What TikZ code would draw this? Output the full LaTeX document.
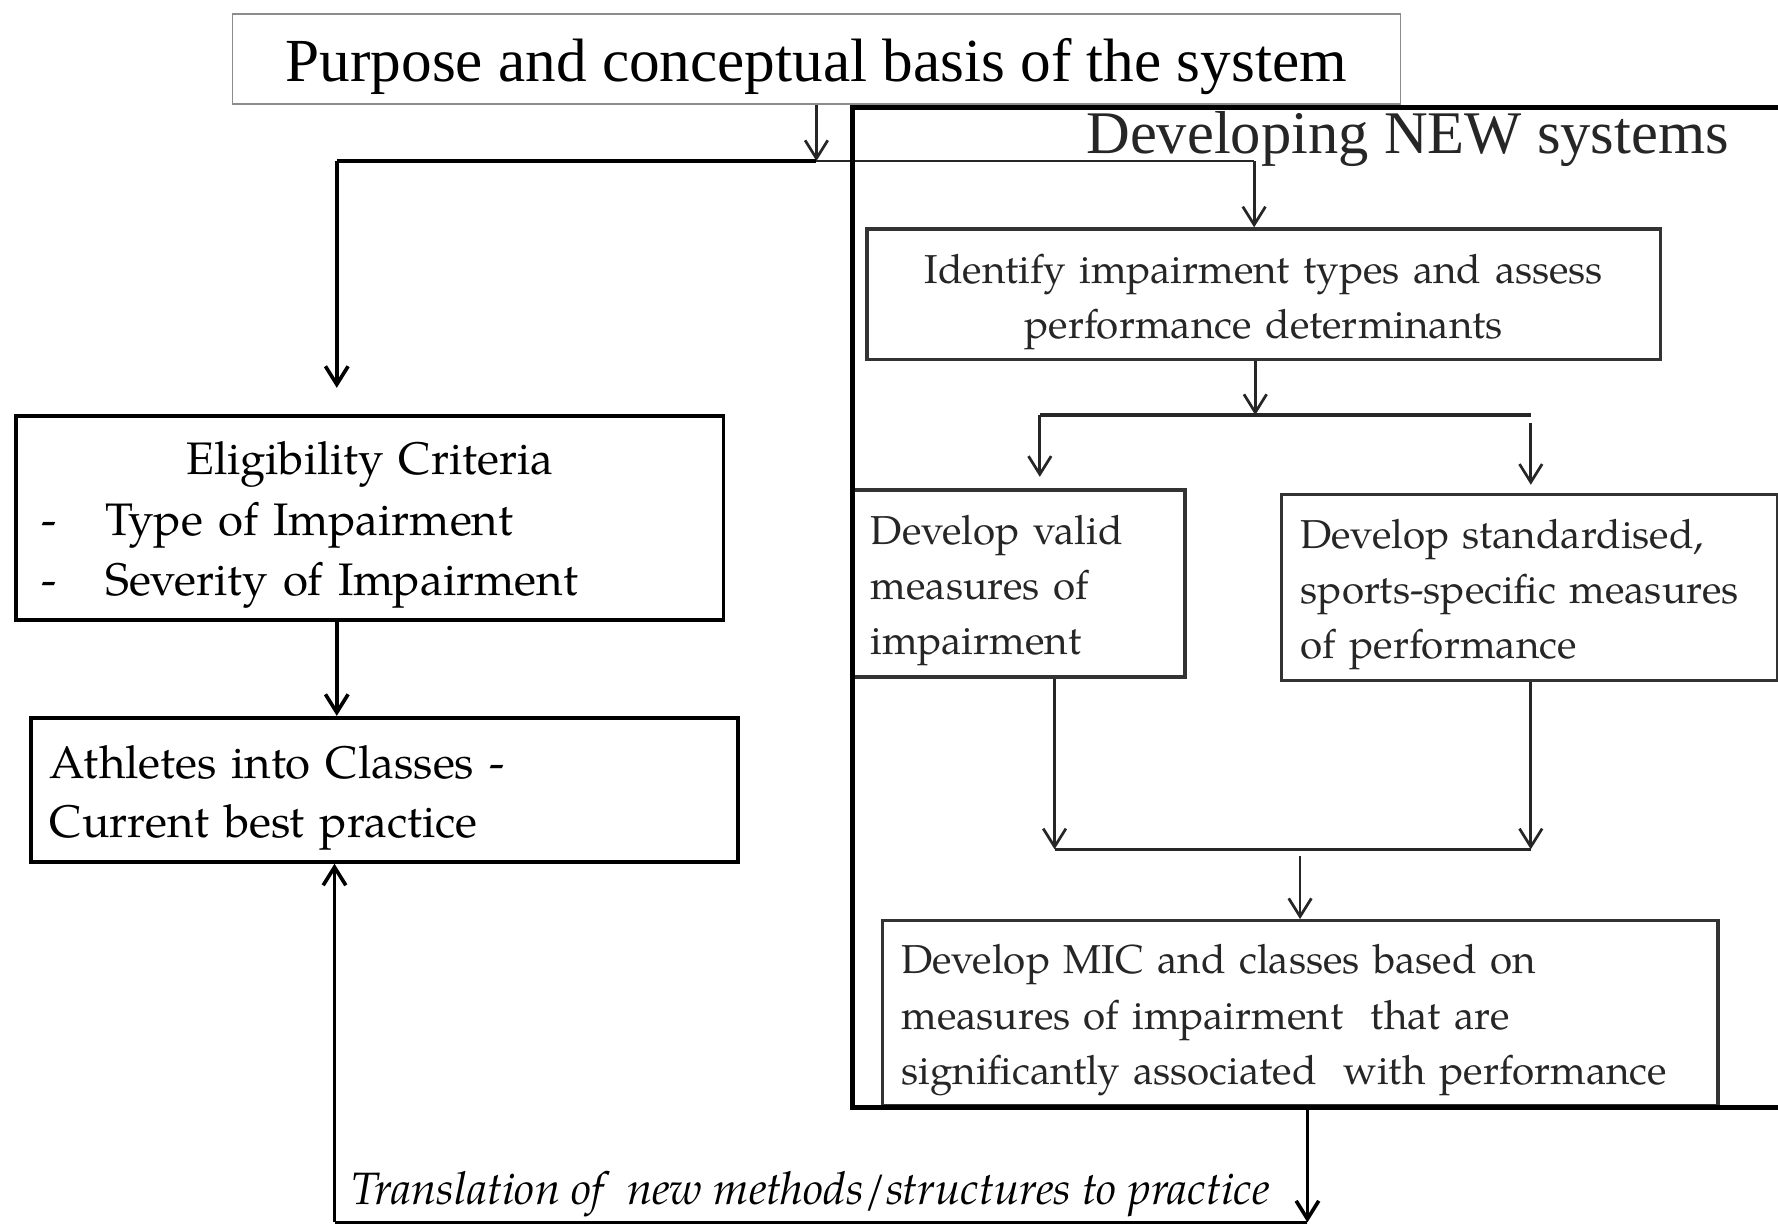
\documentclass[tikz,border=0pt]{standalone}
\usepackage{fontspec}
\setmainfont{Liberation Serif}
\newfontfamily\pal{TeX Gyre Pagella}
\usetikzlibrary{arrows.meta}
\newcommand\tstrut[1]{\rule{0pt}{#1}}
\begin{document}
\begin{tikzpicture}[x=0.5pt,y=-0.5pt,
  lbox/.style={draw=black, line width=1.7pt, rectangle, inner ysep=0pt, align=left, text=black,
    font=\pal\fontsize{20.1}{26.7}\selectfont},
  rbox/.style={draw=black!80, line width=1.5pt, rectangle, inner ysep=0pt, align=left, text=black!85,
    font=\pal\fontsize{17.8}{24.3}\selectfont},
  tip/.style={-{Straight Barb[length=8pt,width=10pt]}},
  lline/.style={line width=1.6pt, draw=black},
  rline/.style={line width=1.2pt, draw=black!85},
  larr/.style={lline, tip},
  rarr/.style={rline, tip},
  frame/.style={line width=2.3pt, draw=black}
]
\useasboundingbox (0,0) rectangle (1568,1082);

% boxes
\node[draw=black!45, line width=0.8pt, rectangle, minimum width=515pt, minimum height=40pt,
      inner sep=0pt, text height=20pt, text depth=0pt, font=\fontsize{27}{32}\selectfont]
      (top) at (720,52) {Purpose and conceptual basis of the system};

\node[anchor=base east, inner sep=0pt, text=black!85, font=\fontsize{26.7}{32}\selectfont]
      (dev) at (1525,135) {Developing NEW systems};

\node[lbox, text width=289pt, inner xsep=11.5pt, minimum height=90pt] (elig) at (326,457)
  {\tstrut{20.6pt}\hfill Eligibility Criteria\hfill\null\\
   \makebox[28pt][l]{-}Type of Impairment\\
   \makebox[28pt][l]{-}Severity of Impairment};

\node[lbox, text width=295pt, inner xsep=8.5pt, minimum height=63.5pt,
      font=\pal\fontsize{20.1}{26}\selectfont] (athl) at (339,696.5)
  {\tstrut{21.7pt}Athletes into Classes -\\Current best practice};

\node[rbox, align=center, text width=330pt, inner xsep=10pt, minimum height=57.5pt] (iden) at (1114.5,259.5)
  {\tstrut{19.5pt}Identify impairment types and assess\\performance determinants};

\node[rbox, text width=130.5pt, inner xsep=8pt, minimum height=82.5pt] (valid) at (898.5,514.5)
  {\tstrut{19pt}Develop valid\\measures of\\impairment};

\node[rbox, text width=202pt, inner xsep=8.5pt, minimum height=82pt] (std) at (1349,518)
  {\tstrut{19pt}Develop standardised,\\\mbox{sports-specific measures}\\of performance};

\node[rbox, text width=351.5pt, inner xsep=8.5pt, minimum height=81.5pt] (mic) at (1146.5,893.5)
  {\tstrut{19pt}Develop MIC and classes based on\\
   measures of impairment\ \ that are\\
   \mbox{significantly associated\ \ with performance}};

\node[anchor=base west, inner sep=0pt, font=\pal\itshape\fontsize{20}{24}\selectfont]
      (trans) at (310,1062) {Translation of\ \ new methods/structures to practice};

% junction coordinates
\coordinate (j1) at (720,142);
\coordinate (jl) at (297,142);
\coordinate (jr) at (1106,142);
\coordinate (eligtip) at (297,342);
\coordinate (j2) at (1107,366);
\coordinate (j2l) at (917,366);
\coordinate (j2r) at (1350,366);
\coordinate (j3l) at (930,749);
\coordinate (j3r) at (1350,749);
\coordinate (j3m) at (1146.5,749);
\coordinate (b2) at (1153,1078);
\coordinate (b3) at (295,1078);

% connectors left
\draw[rarr] (top.south) -- (j1);
\draw[lline, line width=1.8pt] (jl) -- (j1);
\draw[rline] (j1) -- (jr);
\draw[larr] (jl) -- (eligtip);
\draw[larr] (elig.south -| jl) -- (athl.north -| jl);

% connectors right
\draw[rarr] (jr) -- (jr |- iden.north);
\draw[rarr] (j2 |- iden.south) -- (j2);
\draw[rline, line width=1.4pt] (j2l) -- (j2r);
\draw[rarr, shorten >=5pt] (j2l) -- (j2l |- valid.north);
\draw[rarr, shorten <=3.5pt, shorten >=3.5pt] (j2r) -- (j2r |- std.north);
\draw[rarr] (valid.south -| j3l) -- (j3l);
\draw[rarr] (std.south -| j3r) -- (j3r);
\draw[rline, line width=1.6pt] (j3l) -- (j3r);
\draw[rarr, shorten <=3pt] (j3m) -- (mic.north);

% bottom loop
\draw[larr] (mic.south -| b2) -- (b2);
\draw[lline] (b2) -- (b3);
\draw[larr] (b3) -- (b3 |- athl.south);

% frame of the NEW systems part
\draw[frame] (1572,95) -- (752,95) -- (752,977) -- (1572,977);
\end{tikzpicture}
\end{document}
